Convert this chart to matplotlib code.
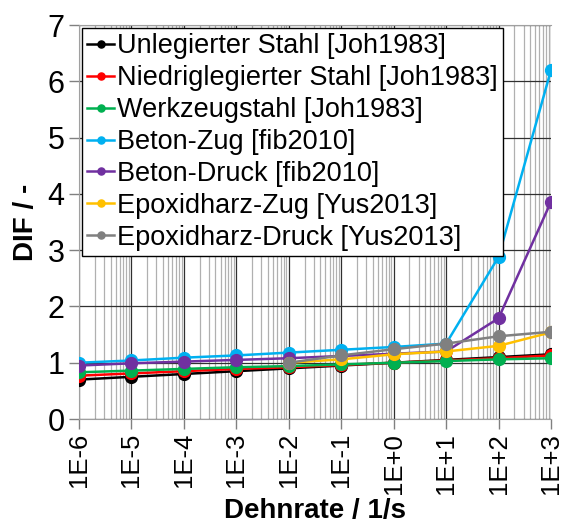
import matplotlib
matplotlib.use("Agg")
import matplotlib.pyplot as plt
from matplotlib.ticker import LogLocator, FixedLocator

plt.rcParams['font.family'] = ['Liberation Sans', 'DejaVu Sans']

# Dehnrate in 1/s
rate = [1e-6, 1e-5, 1e-4, 1e-3, 1e-2, 1e-1, 1e0, 1e1, 1e2, 1e3]
rate_epoxy = [1e-2, 1e-1, 1e0, 1e1, 1e2, 1e3]
xlabels = ['1E-6', '1E-5', '1E-4', '1E-3', '1E-2', '1E-1', '1E+0', '1E+1', '1E+2', '1E+3']

unlegiert = [0.70, 0.75, 0.80, 0.85, 0.90, 0.95, 1.00, 1.05, 1.10, 1.15]
niedriglegiert = [0.77, 0.81, 0.85, 0.89, 0.92, 0.96, 1.00, 1.04, 1.08, 1.13]
werkzeug = [0.83, 0.86, 0.89, 0.92, 0.94, 0.97, 1.00, 1.03, 1.06, 1.08]
beton_zug = [1.00, 1.04, 1.09, 1.13, 1.18, 1.23, 1.28, 1.34, 2.88, 6.20]
beton_druck = [0.95, 0.99, 1.02, 1.05, 1.08, 1.12, 1.16, 1.20, 1.79, 3.86]
epoxid_zug = [1.00, 1.06, 1.15, 1.20, 1.30, 1.54]
epoxid_druck = [1.00, 1.13, 1.24, 1.34, 1.47, 1.55]

series = [
    (rate, unlegiert, '#000000', 'Unlegierter Stahl [Joh1983]'),
    (rate, niedriglegiert, '#FF0000', 'Niedriglegierter Stahl [Joh1983]'),
    (rate, werkzeug, '#00B050', 'Werkzeugstahl [Joh1983]'),
    (rate, beton_zug, '#00B0F0', 'Beton-Zug [fib2010]'),
    (rate, beton_druck, '#7030A0', 'Beton-Druck [fib2010]'),
    (rate_epoxy, epoxid_zug, '#FFC000', 'Epoxidharz-Zug [Yus2013]'),
    (rate_epoxy, epoxid_druck, '#808080', 'Epoxidharz-Druck [Yus2013]'),
]

fig = plt.figure(figsize=(5.66, 5.30), dpi=100)
ax = fig.add_axes([0.1396, 0.2094, 0.8339, 0.7434])

for x, y, c, lab in series:
    ax.plot(x, y, color=c, lw=1.8, marker='o', ms=8.5, label=lab, zorder=3)

ax.set_xscale('log')
ax.set_xlim(1e-6, 1e3)
ax.set_ylim(0, 7)
ax.xaxis.set_major_locator(FixedLocator(rate))
ax.xaxis.set_minor_locator(LogLocator(base=10, subs=range(2, 10), numticks=20))
ax.set_xticks(rate)
ax.set_xticklabels(xlabels, rotation=90)
ax.set_yticks(range(0, 8))

ax.grid(True, which='major', axis='x', color='#303030', lw=0.9)
ax.grid(True, which='minor', axis='x', color='#B0B0B0', lw=0.9)
ax.grid(True, which='major', axis='y', color='#303030', lw=0.9)
ax.set_axisbelow(True)

ax.tick_params(axis='y', which='major', labelsize=22, direction='out',
               length=7, color='#808080', width=1)
ax.tick_params(axis='x', which='major', labelsize=18.5, direction='out',
               length=7, color='#808080', width=1, pad=3)
ax.tick_params(axis='x', which='minor', length=0)
for s in ['left', 'bottom', 'top']:
    ax.spines[s].set_color('#A0A0A0')
ax.spines['right'].set_visible(False)

ax.set_xlabel('Dehnrate / 1/s', fontsize=20, fontweight='bold', labelpad=3)
ax.set_ylabel('DIF / -', fontsize=20, fontweight='bold', labelpad=6)

leg = ax.legend(loc='upper left', fontsize=19.5, frameon=True, fancybox=False,
                edgecolor='#000000', framealpha=1, borderaxespad=0.1,
                handlelength=1.0, handletextpad=0.1, labelspacing=0.22,
                borderpad=0.2, markerscale=0.6)
leg.get_frame().set_linewidth(1.0)

fig.savefig('out.png', dpi=100)
